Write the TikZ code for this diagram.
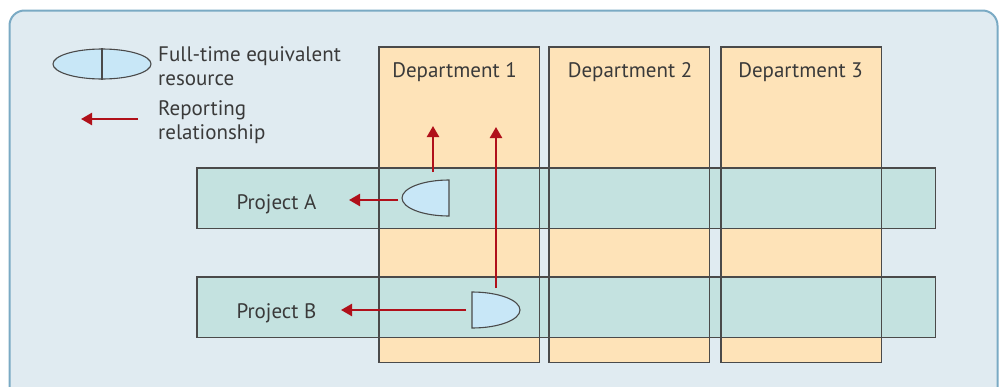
\documentclass[tikz,border=0pt]{standalone}
\usepackage{fontspec}
\setmainfont{PT Sans}
\usetikzlibrary{arrows.meta,shapes.geometric}
\definecolor{framefill}{HTML}{E0EBF1}
\definecolor{framedraw}{HTML}{7AAAC4}
\definecolor{deptfill}{HTML}{FEE3B8}
\definecolor{projfill}{HTML}{C4E2E0}
\definecolor{resfill}{HTML}{C8E7F7}
\definecolor{arrred}{HTML}{B0101A}
\definecolor{ink}{HTML}{3A3A3A}
\definecolor{edgecol}{HTML}{4A4A4A}
\begin{document}
\begin{tikzpicture}[x=1pt,y=-1pt,
  txt/.style={text=ink, font=\fontsize{21}{23.7}\selectfont, inner sep=0pt},
  deptbox/.style={fill=deptfill, draw=none, minimum width=160.5pt, minimum height=315pt, inner sep=0pt, anchor=north west},
  projbox/.style={fill=projfill, draw=none, minimum width=738pt, minimum height=60pt, inner sep=0pt, anchor=north west},
  outline/.style={draw=edgecol, line width=1.1pt},
  resshape/.style={fill=resfill, draw=edgecol, line width=1.1pt},
  reparrow/.style={draw=arrred, line width=2.4pt, -{Triangle[length=11pt,width=12pt]}},
]
\clip (0,0) rectangle (999,386);
\draw[draw=framedraw, line width=2pt, fill=framefill, rounded corners=15pt] (9.5,10.5) rectangle (997.5,430);

% legend
\node[ellipse, fill=resfill, draw=edgecol, line width=1.1pt, minimum width=98pt, minimum height=30pt, inner sep=0pt] (legres) at (102,64) {};
\draw[edgecol, line width=1.1pt] (legres.north) -- (legres.south);
\node[txt, anchor=base west, align=left] (legtxt1) at (158,85) {Full-time equivalent\\resource};
\coordinate (legas) at (138,119);
\coordinate (legae) at (81,119);
\draw[reparrow] (legas) -- (legae);
\node[txt, anchor=base west, align=left] (legtxt2) at (158,139) {Reporting\\relationship};

% departments
\node[deptbox] (d1) at (379,47) {};
\node[deptbox] (d2) at (549,47) {};
\node[deptbox] (d3) at (721,47) {};
% projects
\node[projbox] (pa) at (197,168) {};
\node[projbox] (pb) at (197,277) {};
% outlines
\foreach \n in {d1,d2,d3,pa,pb}
  \draw[outline] (\n.north west) rectangle (\n.south east);

% labels
\node[txt, anchor=base] (l1) at (454.5,77) {Department 1};
\node[txt, anchor=base] (l2) at (630,77) {Department 2};
\node[txt, anchor=base] (l3) at (800.5,77) {Department 3};
\node[txt, anchor=base] (lpa) at (276.5,209) {Project A};
\node[txt, anchor=base] (lpb) at (276.5,318) {Project B};

% resources
\draw[resshape] (449,216) arc[start angle=90, end angle=270, x radius=47, y radius=18] -- cycle;
\draw[resshape] (472,328) arc[start angle=90, end angle=-90, x radius=48, y radius=18] -- cycle;
\coordinate (ra) at (449,198);
\coordinate (rb) at (472,310);

% reporting arrows
\coordinate (a1s) at (433,172);
\coordinate (a1e) at (433,126);
\coordinate (a2s) at (496,288);
\coordinate (a2e) at (496,127);
\coordinate (aas) at (398,200);
\coordinate (aae) at (349,200);
\coordinate (abs) at (466,310);
\coordinate (abe) at (341,310);
\draw[reparrow] (a1s) -- (a1e);
\draw[reparrow] (a2s) -- (a2e);
\draw[reparrow] (aas) -- (aae);
\draw[reparrow] (abs) -- (abe);
\end{tikzpicture}
\end{document}
